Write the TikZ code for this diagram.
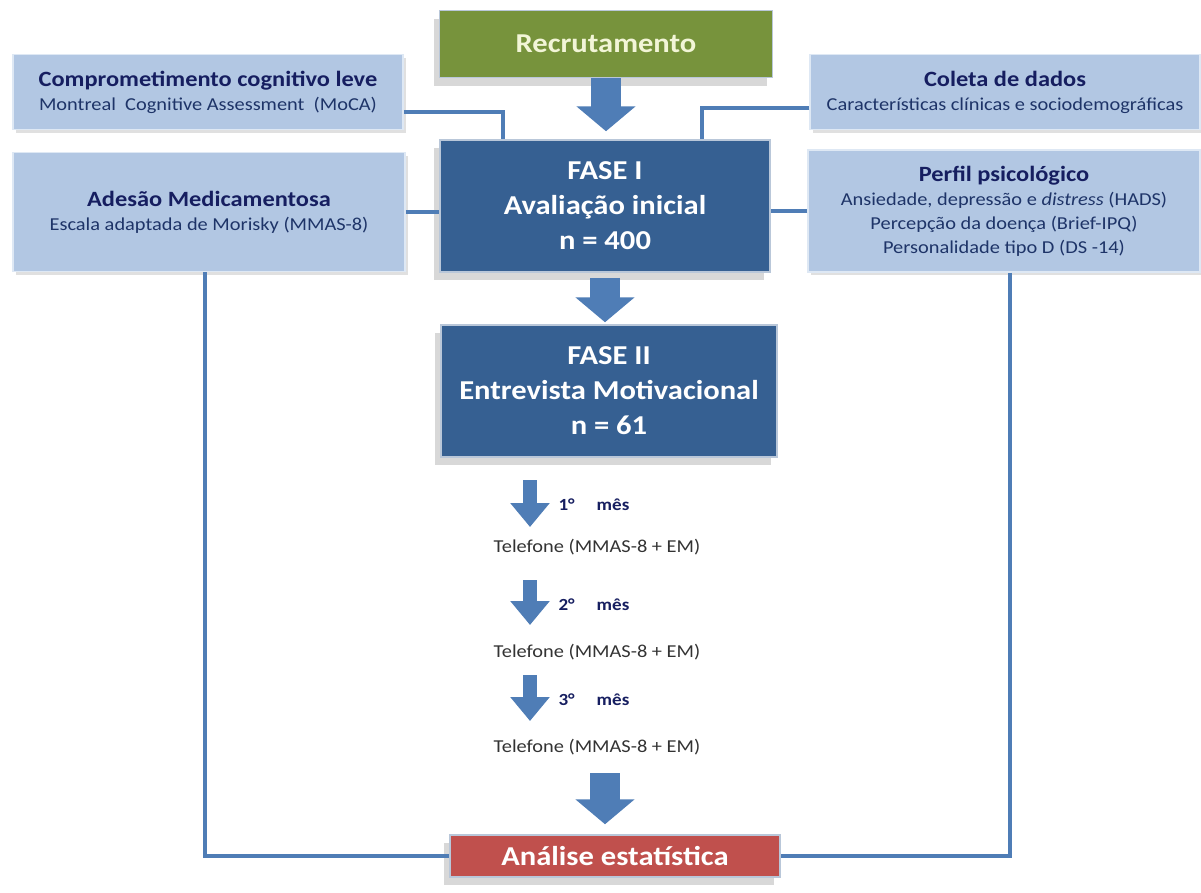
\documentclass[tikz,border=0pt]{standalone}
\usepackage{fontspec}
\setmainfont{Carlito}[FakeStretch=1.12]
\usepackage{xcolor}
\definecolor{lightbox}{RGB}{178,199,227}
\definecolor{lightedge}{RGB}{222,232,244}
\definecolor{darkbox}{RGB}{54,96,146}
\definecolor{greenbox}{RGB}{119,147,60}
\definecolor{redbox}{RGB}{192,80,77}
\definecolor{linkblue}{RGB}{79,125,182}
\definecolor{navy}{RGB}{22,30,96}
\definecolor{subnavy}{RGB}{30,52,104}
\definecolor{rectext}{RGB}{242,245,215}
\usepackage{tikz}
\usetikzlibrary{arrows.meta,positioning,shadows,calc}
\newcommand\mainfnt{\fontsize{27.3}{35}\selectfont\bfseries}
\newcommand\titlefnt{\fontsize{21.8}{24}\selectfont\bfseries\color{navy}}
\newcommand\subfnt{\fontsize{18.2}{24}\selectfont}
\newcommand\monthfnt{\fontsize{17}{20}\selectfont\bfseries}
\tikzset{
  mainbox/.style={draw=white!65!darkbox,line width=1.5pt,fill=darkbox,text=white,%
    font=\mainfnt,align=center,inner sep=0pt,%
    drop shadow={shadow xshift=-6pt,shadow yshift=-8pt,opacity=0.22,fill=black!70}},
  infobox/.style={draw=lightedge,line width=1.5pt,fill=lightbox,text=subnavy,%
    font=\subfnt,align=center,inner sep=0pt,%
    drop shadow={shadow xshift=3pt,shadow yshift=-3pt,opacity=0.2,fill=black!60}},
  flow/.style={-{Triangle[length=25pt,width=58pt]},line width=30pt,draw=linkblue},
  smallflow/.style={-{Triangle[length=24pt,width=38pt]},line width=14pt,draw=linkblue},
  link/.style={line width=4pt,draw=linkblue},
  step text/.style={font=\subfnt,text=black!80},
  month/.style={font=\monthfnt,text=navy,anchor=west},
}
\begin{document}
\begin{tikzpicture}[x=1pt,y=-1pt]
\useasboundingbox (0,0) rectangle (1201,892);
% central column
\node[mainbox,fill=greenbox,text=rectext,minimum width=333pt,minimum height=67pt] (rec) at (606,44) {Recrutamento};
\node[mainbox,minimum width=330pt,minimum height=132pt] (f1) at (605,206) {FASE I\\Avaliação inicial\\n = 400};
\node[mainbox,minimum width=336pt,minimum height=132pt] (f2) at (609,391) {FASE II\\Entrevista Motivacional\\n = 61};
\node[mainbox,fill=redbox,minimum width=330pt,minimum height=42pt] (ana) at (615,856) {Análise estatística};
% side boxes
\node[infobox,minimum width=390pt,minimum height=75pt] (comp) at (208,92) {{\titlefnt Comprometimento cognitivo leve}\\Montreal\ \ Cognitive Assessment\ \ (MoCA)};
\node[infobox,minimum width=392pt,minimum height=119pt] (ades) at (209,212) {{\titlefnt Adesão Medicamentosa}\\Escala adaptada de Morisky (MMAS-8)};
\node[infobox,minimum width=390pt,minimum height=75pt] (col) at (1005,92) {{\titlefnt Coleta de dados}\\Características clínicas e sociodemográficas};
\node[infobox,minimum width=392pt,minimum height=122pt] (perf) at (1004,211) {{\titlefnt Perfil psicológico}\\Ansiedade, depressão e \textit{distress} (HADS)\\Percepção da doença (Brief-IPQ)\\Personalidade tipo D (DS -14)};
% follow-up
\node[month] (m1) at (555,505) {1°\hspace{22pt}mês};
\node[step text] (t1) at (597,547) {Telefone (MMAS-8 + EM)};
\node[month] (m2) at (555,605) {2°\hspace{22pt}mês};
\node[step text] (t2) at (597,652) {Telefone (MMAS-8 + EM)};
\node[month] (m3) at (555,700) {3°\hspace{22pt}mês};
\node[step text] (t3) at (597,747) {Telefone (MMAS-8 + EM)};
\coordinate (a1) at (530,480);
\coordinate (a2) at (530,580);
\coordinate (a3) at (530,675);
\coordinate (a4) at (605,773);
% arrows
\draw[flow,shorten >=8pt] (rec.south) -- (rec.south |- f1.north);
\draw[flow,shorten <=5pt,shorten >=2pt] (f1.south) -- (f1.south |- f2.north);
\draw[smallflow] (a1) -- ++(0,47);
\draw[smallflow] (a2) -- ++(0,45);
\draw[smallflow] (a3) -- ++(0,46);
\draw[flow,shorten >=10pt] (a4) -- (a4 |- ana.north);
% links
\draw[link] ([yshift=-20pt]comp.east) -| ([xshift=-102pt]f1.north);
\draw[link] ([yshift=-16pt]col.west) -| ([xshift=97pt]f1.north);
\draw[link] (ades.east) -- (ades.east -| f1.west);
\draw[link] (perf.west) -- (perf.west -| f1.east);
\draw[link] ([xshift=-4pt]ades.south) |- (ana.west);
\draw[link] ([xshift=6pt]perf.south) |- (ana.east);
\end{tikzpicture}
\end{document}
